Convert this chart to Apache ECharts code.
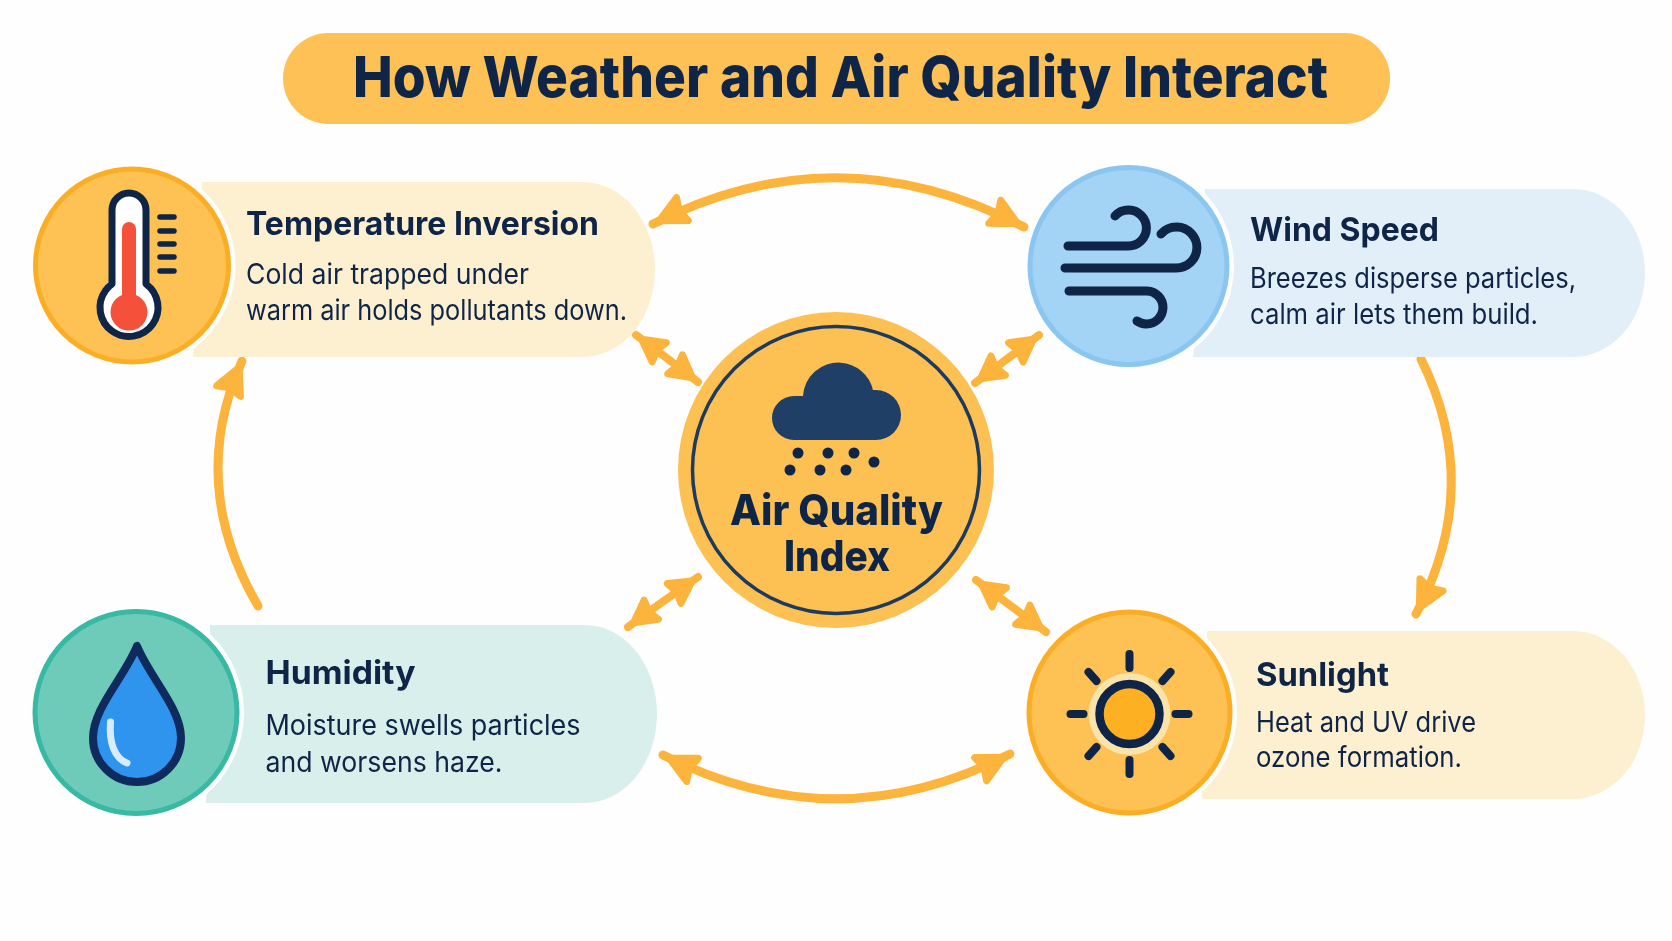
<!DOCTYPE html>
<html><head><meta charset="utf-8">
<style>html,body{margin:0;padding:0;background:#fefefe}#c{width:1672px;height:941px}</style>
<script src="https://cdn.jsdelivr.net/npm/echarts@6/dist/echarts.min.js"></script>
</head><body><div id="c"></div>
<script>
const titleText = 'How Weather and Air Quality Interact';
const factorNames = ['Temperature Inversion','Wind Speed','Humidity','Sunlight'];
const factorFirstLines = ['Cold air trapped under','Breezes disperse particles,','Moisture swells particles','Heat and UV drive'];
const factorSecondLines = ['warm air holds pollutants down.','calm air lets them build.','and worsens haze.','ozone formation.'];
const centerLines = ['Air Quality','Index'];

const NAVY = '#0f2547', ARROW = '#fdb43c';
const panels = [
 {cx:132,cy:265.5,r:97.5,fill:'#fdc253',edge:'#fbae23',bg:'#fdf0d0',xt:202,xb:193,xr:655,top:182,bot:357,
  tx:246,hb:237,hw:353,b1:286,w1:283,b2:322,w2:381},
 {cx:1128.5,cy:266,r:99.5,fill:'#a3d3f5',edge:'#8ac6f0',bg:'#e2eff9',xt:1205,xb:1193,xr:1645,top:189,bot:357,
  tx:1250,hb:243,hw:189,b1:290,w1:326,b2:326,w2:288},
 {cx:136,cy:712.5,r:102,fill:'#6ecbb9',edge:'#37b9a3',bg:'#d9efeb',xt:210,xb:206,xr:657,top:625,bot:803,
  tx:265.5,hb:686,hw:150,b1:737,w1:315,b2:774,w2:237},
 {cx:1129.5,cy:712.5,r:101.5,fill:'#fdc253',edge:'#fbae23',bg:'#fdf0d0',xt:1207,xb:1202,xr:1645,top:631,bot:799,
  tx:1256,hb:688,hw:133,b1:734,w1:220,b2:769,w2:206}
];
const arrows = [
 {a:[653,224],c:[838,130],b:[1024,227],both:1,L:26,W:13,lw:9},
 {a:[663,755],c:[837,843],b:[1010,754],both:1,L:26,W:13,lw:9},
 {a:[1421,359],c:[1484,486],b:[1416,614],both:0,L:26,W:13,lw:9},
 {a:[258,606],c:[187,484],b:[242,361],both:0,L:26,W:13,lw:9},
 {a:[636,335],c:[667,358],b:[698,382],both:1,L:22,W:12,lw:8},
 {a:[1039,335],c:[1007,359],b:[975,383],both:1,L:22,W:12,lw:8},
 {a:[698,577],c:[663,601],b:[628,627],both:1,L:22,W:12,lw:8},
 {a:[976,580],c:[1011,606],b:[1046,632],both:1,L:22,W:12,lw:8}
];
const center = {x:836,y:470,r:158,ring:143.5};

const mc = document.createElement('canvas').getContext('2d');
function fit(str,x,base,size,weight,targetW,fill){
  const font = weight+' '+size+'px Inter';
  mc.font = font;
  const w = mc.measureText(str).width;
  const s = targetW? targetW/w : 1;
  return {type:'text',x:x,y:base-size*0.355,scaleX:s,originX:0,
    style:{text:str,font:font,fill:fill||NAVY,textAlign:'left',textVerticalAlign:'middle'}};
}
const stroke=(d,w,c)=>({type:'path',shape:{pathData:d},style:{fill:null,stroke:c||NAVY,lineWidth:w,lineCap:'round',lineJoin:'round'}});
const filled=(d,c)=>({type:'path',shape:{pathData:d},style:{fill:c,stroke:null}});
const disc=(x,y,r,fill,st,lw)=>({type:'circle',shape:{cx:x,cy:y,r:r},style:{fill:fill,stroke:st||null,lineWidth:lw||0}});

const icons = [
 ()=>[ // thermometer
  filled('M109,210 A20,20 0 0 1 149,210 L149,282 A32,32 0 1 1 109,282 Z','#fefefe'),
  stroke('M112,210 A17,17 0 0 1 146,210 L146,284 A29,29 0 1 1 112,284 Z',7),
  {type:'path',shape:{pathData:'M122,229 A7,7 0 0 1 136,229 L136,295 A18.5,18.5 0 1 1 122,295 Z'},style:{fill:'#f4503a'}},
  ...[217,231,244,257,271].map(y=>stroke('M160,'+y+' L174,'+y,5.5))
 ],
 ()=>[ // wind
  stroke('M1068,246 L1128,246 A18,18 0 1 0 1115,216',9),
  stroke('M1065,268 L1176,268 A20.5,20.5 0 1 0 1161,234',9),
  stroke('M1069,291 L1147,291 A16.5,16.5 0 1 1 1137,321',9)
 ],
 ()=>[ // drop
  {type:'path',shape:{pathData:'M137,646 C124,678 93,708 93,738 A44,44 0 0 0 181,738 C181,708 150,678 137,646 Z'},
   style:{fill:'#2f94ee',stroke:'#0f2a5c',lineWidth:8,lineJoin:'round'}},
  stroke('M110.5,722 C109,742 114,758 127,763',7,'#d8ecfb')
 ],
 ()=>{ // sun
  const x=1129.5,y=714,out=[];
  out.push(disc(x,y,41,'#fbe3ac'));
  out.push(disc(x,y,30,'#fdb022',NAVY,8.5));
  [[0,-60,0,-46],[0,46,0,60],[-59,0,-46,0],[46,0,59,0],[-41,-42,-33,-33],[41,-42,33,-33],[-41,42,-33,33],[41,42,33,33]]
   .forEach(k=>out.push(stroke('M'+(x+k[0])+','+(y+k[1])+' L'+(x+k[2])+','+(y+k[3]),8)));
  return out;
 }
];
function head(tip,from,L,W){
  const dx=tip[0]-from[0],dy=tip[1]-from[1],n=Math.hypot(dx,dy),ux=dx/n,uy=dy/n,px=-uy,py=ux;
  const p=(a,b)=>(tip[0]+ux*(a-7)+px*b).toFixed(1)+','+(tip[1]+uy*(a-7)+py*b).toFixed(1);
  return {type:'path',shape:{pathData:'M'+p(0,0)+' L'+p(-L,W)+' L'+p(-L*0.86,0)+' L'+p(-L,-W)+' Z'},
    style:{fill:ARROW,stroke:ARROW,lineWidth:7,lineJoin:'round'}};
}
const canvasAxis = (max,inv)=>({type:'value',min:0,max:max,inverse:inv,show:false});
const chart = echarts.init(document.getElementById('c'));
const place = (api,children)=>{ const o=api.coord([0,0]); return {type:'group',x:o[0],y:o[1],children:children}; };

chart.setOption({
 animation:false,
 backgroundColor:'#fefefe',
 grid:{left:0,right:0,top:0,bottom:0},
 xAxis:canvasAxis(1672,false),
 yAxis:canvasAxis(941,true),
 series:[
  {name:'Title',type:'custom',coordinateSystem:'cartesian2d',data:[[0,0]],silent:true,
   renderItem:(p,api)=>place(api,[
     {type:'rect',shape:{x:283,y:33,width:1107,height:91,r:45.5},style:{fill:'#fdc155'}},
     fit(titleText,353,100,57,800,975)
   ])},
  {name:'Links',type:'custom',coordinateSystem:'cartesian2d',data:arrows.map((a,i)=>[0,0,i]),silent:true,
   renderItem:(p,api)=>{const a=arrows[api.value(2)];
     return place(api,[
       stroke('M'+a.a+' Q'+a.c+' '+a.b,a.lw,ARROW),
       head(a.b,a.c,a.L,a.W),
       ...(a.both?[head(a.a,a.c,a.L,a.W)]:[])
     ]);}},
  {name:'Factors',type:'custom',coordinateSystem:'cartesian2d',data:factorNames.map((n,i)=>[0,0,i]),silent:true,
   renderItem:(p,api)=>{const i=api.value(2),k=panels[i],rx=72,ry=(k.bot-k.top)/2;
     return place(api,[
       filled('M'+k.xt+','+k.top+' L'+(k.xr-rx)+','+k.top+' A'+rx+','+ry+' 0 0 1 '+(k.xr-rx)+','+k.bot+' L'+k.xb+','+k.bot+' Z',k.bg),
       disc(k.cx,k.cy,k.r+6,'#fefefe'),
       disc(k.cx,k.cy,k.r-1,k.fill,k.edge,5),
       ...icons[i](),
       fit(factorNames[i],k.tx,k.hb,33,700,k.hw),
       fit(factorFirstLines[i],k.tx,k.b1,28,400,k.w1),
       fit(factorSecondLines[i],k.tx,k.b2,28,400,k.w2)
     ]);}},
  {name:'Air Quality Index',type:'custom',coordinateSystem:'cartesian2d',data:[[0,0]],silent:true,
   renderItem:(p,api)=>place(api,[
     disc(center.x,center.y,center.r,'#fdc052'),
     disc(center.x,center.y,center.ring,null,'#1d3a5f',3.5),
     filled('M794,440 A22,22 0 0 1 794,396 L803,396 A35.5,35.5 0 0 1 873,390 L876,390 A25,25 0 0 1 876,440 Z','#1f3f66'),
     ...[[798,453],[828,453],[854,453],[874,462],[790,470],[820,470],[846,470]].map(d=>disc(d[0],d[1],5.5,NAVY)),
     fit(centerLines[0],730,527,42,800,213),
     fit(centerLines[1],784,573,42,800,106)
   ])}
 ]
});
</script></body></html>
